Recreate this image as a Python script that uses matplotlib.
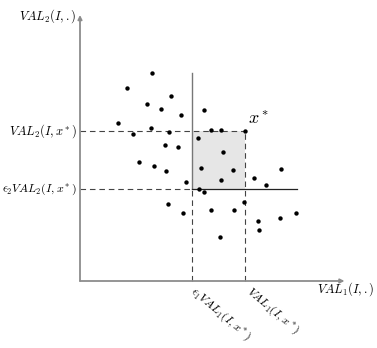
import numpy as np
import matplotlib.pyplot as plt

plt.rcParams['mathtext.fontset'] = 'cm'

# scattered solutions (arbitrary units, origin at the axes corner)
pts_x = [7.15, 4.70, 9.05, 6.70, 8.05, 10.13, 12.35, 3.83, 7.05, 5.30,
         8.88, 13.12, 14.05, 16.53, 11.77, 8.50, 9.82, 14.27, 5.93, 7.37,
         8.60, 12.05, 15.30, 20.05, 14.05, 17.38, 18.63, 10.60, 11.87, 12.37,
         16.38, 8.80, 10.33, 13.05, 15.43, 21.63, 20.00, 17.78, 17.93, 13.95]
pts_y = [20.83, 19.33, 18.53, 17.68, 17.20, 16.57, 17.13, 15.83, 15.32, 14.75,
         14.90, 15.10, 15.10, 15.00, 14.30, 13.60, 13.38, 12.93, 11.90, 11.53,
         11.03, 11.27, 11.15, 11.22, 10.15, 10.28, 9.57, 9.87, 9.17, 8.90,
         7.90, 7.73, 6.78, 7.15, 7.15, 6.85, 6.33, 5.98, 5.08, 4.42]

x_star = (16.53, 15.0)   # (VAL1(I,x*), VAL2(I,x*))
eps1_val1 = 11.17
eps2_val2 = 9.18
x_end, y_end = 26.45, 26.6
vline_top = 20.8
hline_right = 21.67

fig = plt.figure(figsize=(3.77, 3.48), dpi=100)
ax = fig.add_axes([0, 0, 1, 1])
ax.set_xlim(-8.0, 29.7)
ax.set_ylim(-6.7, 28.1)
ax.axis('off')

# dominated-area box
ax.fill_between([eps1_val1, x_star[0]], eps2_val2, x_star[1], color='#e6e6e6', lw=0, zorder=0)

# axes with arrows
ax.annotate('', xy=(x_end, 0), xytext=(0, 0),
            arrowprops=dict(arrowstyle='-|>', color='#8c8c8c', lw=1.3, mutation_scale=6, shrinkA=0, shrinkB=0))
ax.annotate('', xy=(0, y_end), xytext=(0, 0),
            arrowprops=dict(arrowstyle='-|>', color='#8c8c8c', lw=1.3, mutation_scale=6, shrinkA=0, shrinkB=0))

dash = dict(color='#444444', lw=0.8, ls=(0, (5, 3.5)))
ax.plot([0, x_star[0]], [x_star[1], x_star[1]], **dash)
ax.plot([x_star[0], x_star[0]], [0, x_star[1]], **dash)
ax.plot([0, eps1_val1], [eps2_val2, eps2_val2], **dash)
ax.plot([eps1_val1, eps1_val1], [0, eps2_val2], **dash)

# epsilon-constraint lines
ax.plot([eps1_val1, eps1_val1], [eps2_val2, vline_top], color='#777777', lw=1.0)
ax.plot([eps1_val1, hline_right], [eps2_val2, eps2_val2], color='#222222', lw=0.9)

ax.scatter(pts_x, pts_y, s=10, color='black', zorder=3, lw=0)

fs = 9.0
ax.text(-0.3, y_end - 0.1, r'$VAL_2(I,.)$', ha='right', va='center', fontsize=fs)
ax.text(-0.3, x_star[1], r'$VAL_2(I,x^*)$', ha='right', va='center', fontsize=fs)
ax.text(-0.3, eps2_val2, r'$\epsilon_2VAL_2(I,x^*)$', ha='right', va='center', fontsize=8.6)
ax.text(23.7, -0.85, r'$VAL_1(I,.)$', ha='left', va='center', fontsize=fs)
ax.text(eps1_val1 + 0.5, -0.35, r'$\epsilon_1VAL_1(I,x^*)$', ha='left', va='top',
        rotation=-40, rotation_mode='anchor', fontsize=8.6)
ax.text(x_star[0] + 0.8, -0.35, r'$VAL_1(I,x^*)$', ha='left', va='top',
        rotation=-40, rotation_mode='anchor', fontsize=8.6)
ax.text(17.9, 16.1, r'$x^*$', ha='center', va='center', fontsize=13)

plt.savefig('out.png', dpi=100)
